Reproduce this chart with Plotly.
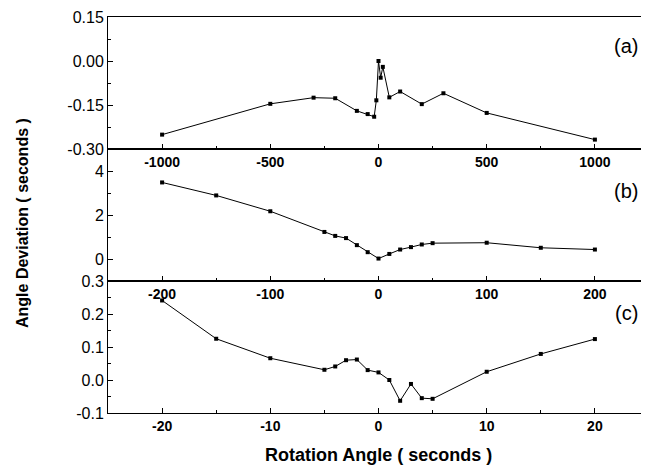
import plotly.graph_objects as go

# ---- data ----
a_x = [-1000, -500, -300, -200, -100, -50, -20, -10, 0, 10, 20, 50, 100, 200, 300, 500, 1000]
a_y = [-0.251, -0.146, -0.125, -0.127, -0.170, -0.181, -0.190, -0.134, 0.0, -0.057, -0.020,
       -0.124, -0.104, -0.147, -0.110, -0.177, -0.268]

b_x = [-200, -150, -100, -50, -40, -30, -20, -10, 0, 10, 20, 30, 40, 50, 100, 150, 200]
b_y = [3.48, 2.89, 2.17, 1.23, 1.05, 0.95, 0.63, 0.31, 0.02, 0.23, 0.43, 0.54, 0.66, 0.72,
       0.74, 0.51, 0.43]

c_x = [-20, -15, -10, -5, -4, -3, -2, -1, 0, 1, 2, 3, 4, 5, 10, 15, 20]
c_y = [0.241, 0.125, 0.066, 0.031, 0.041, 0.060, 0.062, 0.030, 0.023, 0.0, -0.063, -0.012,
       -0.055, -0.057, 0.025, 0.079, 0.124]

a_xticks = [-1000, -500, 0, 500, 1000]
a_xtext = ["-1000", "-500", "0", "500", "1000"]
b_xticks = [-200, -100, 0, 100, 200]
b_xtext = ["-200", "-100", "0", "100", "200"]
c_xticks = [-20, -10, 0, 10, 20]
c_xtext = ["-20", "-10", "0", "10", "20"]

a_yticks = [-0.30, -0.15, 0.0, 0.15]
a_ytext = ["-0.30", "-0.15", "0.00", "0.15"]
b_yticks = [0, 2, 4]
b_ytext = ["0", "2", "4"]
c_yticks = [-0.1, 0.0, 0.1, 0.2, 0.3]
c_ytext = ["-0.1", "0.0", "0.1", "0.2", "0.3"]

panel_labels = ["(a)", "(b)", "(c)"]
x_title = "Rotation Angle ( seconds )"
y_title = "Angle Deviation ( seconds )"

FONT = "Liberation Sans, Arial, sans-serif"

fig = go.Figure()
series = [(a_x, a_y, "x", "y"), (b_x, b_y, "x2", "y2"), (c_x, c_y, "x3", "y3")]
for xs, ys, xa, ya in series:
    fig.add_trace(go.Scatter(
        x=xs, y=ys, xaxis=xa, yaxis=ya, mode="lines+markers",
        line=dict(color="black", width=1),
        marker=dict(symbol="square", size=4, color="black"),
        showlegend=False, hoverinfo="skip"))

def xax(rng, tv, tt, anchor, dmin):
    return dict(range=rng, tickvals=tv, ticktext=tt, anchor=anchor, domain=[0, 1],
                showline=True, linecolor="black", linewidth=1, mirror=True,
                ticks="inside", ticklen=5, tickcolor="black", showgrid=False, zeroline=False,
                minor=dict(dtick=dmin, ticks="inside", ticklen=3, tickcolor="black"),
                tickfont=dict(family=FONT, size=14, color="black", weight="bold"))

def yax(rng, tv, tt, anchor, dom, dmin):
    return dict(range=rng, tickvals=tv, ticktext=tt, anchor=anchor, domain=dom,
                showline=True, linecolor="black", linewidth=1, mirror="ticks",
                ticks="inside", ticklen=5, tickcolor="black", showgrid=False, zeroline=False,
                minor=dict(dtick=dmin, ticks="inside", ticklen=3, tickcolor="black"),
                tickfont=dict(family=FONT, size=16, color="black"))

# the page body adds an 8 px margin, so the figure is sized/offset to compensate
fig.update_layout(
    width=641, height=462,
    margin=dict(l=100, r=0, t=9, b=57),
    paper_bgcolor="white", plot_bgcolor="white",
    xaxis=xax([-1250, 1250], a_xticks, a_xtext, "y", 250),
    yaxis=yax([-0.30, 0.15], a_yticks, a_ytext, "x", [2 / 3, 1], 0.075),
    xaxis2=xax([-250, 250], b_xticks, b_xtext, "y2", 50),
    yaxis2=yax([-1, 5], b_yticks, b_ytext, "x2", [1 / 3, 2 / 3], 1),
    xaxis3=xax([-25, 25], c_xticks, c_xtext, "y3", 5),
    yaxis3=yax([-0.1, 0.3], c_yticks, c_ytext, "x3", [0, 1 / 3], 0.05),
)

ann = []
label_pos = [(0.78, "y domain"), (0.68, "y2 domain"), (0.76, "y3 domain")]
for lbl, (yy, yr) in zip(panel_labels, label_pos):
    ann.append(dict(text=lbl, xref="paper", yref=yr, x=0.958, y=yy, showarrow=False,
                    xanchor="center", yanchor="middle",
                    font=dict(family=FONT, size=20, color="black")))
ann.append(dict(text=x_title, xref="paper", yref="paper", x=0.5, y=-0.106,
                xanchor="center", yanchor="middle", showarrow=False,
                font=dict(family=FONT, size=18, color="black", weight="bold")))
ann.append(dict(text=y_title, xref="paper", yref="paper", x=-0.157, y=0.48,
                xanchor="center", yanchor="middle", showarrow=False, textangle=-90,
                font=dict(family=FONT, size=16, color="black", weight="bold")))
fig.update_layout(annotations=ann)

fig.write_html("out.html")
